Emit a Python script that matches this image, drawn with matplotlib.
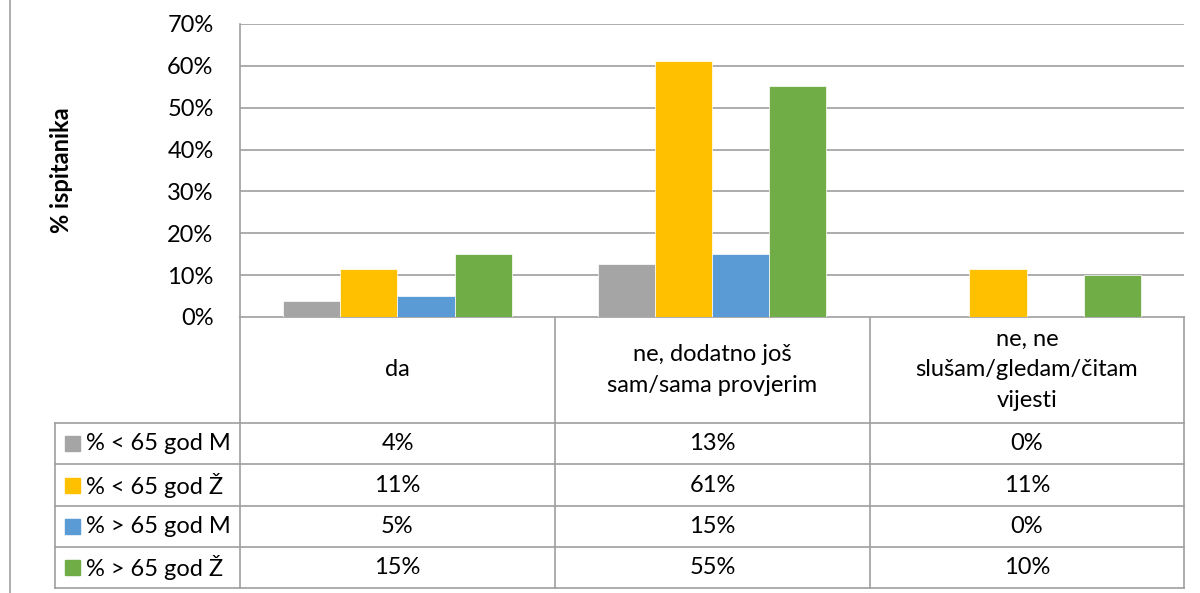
import matplotlib
matplotlib.use("Agg")
import matplotlib.pyplot as plt
import numpy as np

plt.rcParams['font.family'] = ['Lato', 'DejaVu Sans']

categories = ["da", "ne, dodatno još\nsam/sama provjerim", "ne, ne\nslušam/gledam/čitam\nvijesti"]
series_names = ["% < 65 god M", "% < 65 god Ž", "% > 65 god M", "% > 65 god Ž"]
colors = ["#A5A5A5", "#FFC000", "#5B9BD5", "#70AD47"]

lt65_m = [3.8, 12.6, 0.0]
lt65_z = [11.4, 61.2, 11.4]
gt65_m = [5.1, 15.0, 0.0]
gt65_z = [15.1, 55.1, 10.0]
values = [lt65_m, lt65_z, gt65_m, gt65_z]

W, H = 1200, 593
FS = 17
fig = plt.figure(figsize=(W / 100, H / 100), dpi=100)

# pixel geometry of the Excel layout
px_left, px_right = 240, 1184
px_top, px_zero = 24, 317
grid_col = "#9E9E9E"


def fx(x):
    return x / W


def fy(y):
    return 1 - y / H


# bar chart
ax = fig.add_axes([fx(px_left), fy(px_zero), fx(px_right - px_left), (px_zero - px_top) / H])
n_series = len(values)
bw = 1 / (n_series + 1.5)
x = np.arange(len(categories))
for i, (vals, col) in enumerate(zip(values, colors)):
    offs = (i - (n_series - 1) / 2) * bw
    ax.bar(x + offs, vals, width=bw, color=col, edgecolor="white", linewidth=0.5, zorder=3)

ax.set_xlim(-0.5, len(categories) - 0.5)
ax.set_ylim(0, 70)
ax.set_yticks(range(0, 80, 10))
ax.set_yticklabels([f"{t}%" for t in range(0, 80, 10)], fontsize=FS)
ax.set_xticks([])
ax.tick_params(axis="y", length=0, pad=19)
ax.yaxis.grid(True, color=grid_col, linewidth=1.2, zorder=0)
for s in ["top", "right", "bottom"]:
    ax.spines[s].set_visible(False)
ax.spines["left"].set_color(grid_col)
ax.spines["left"].set_linewidth(1.2)
ax.set_ylabel("% ispitanika", fontsize=FS, fontweight="bold")
ax.yaxis.set_label_coords((73 - px_left) / (px_right - px_left), 0.5)

# data table drawn underneath in pixel coordinates
tab_left, tab_bottom = 55, 588
row_edges = [px_zero, 423, 464, 506, 547, 588]
col_edges = [px_left, 555, 870, px_right]
tx = fig.add_axes([0, 0, 1, 1], zorder=-1)
tx.set_xlim(0, W)
tx.set_ylim(H, 0)
tx.axis("off")

lc = dict(color=grid_col, linewidth=1.2)
tx.plot([px_left, px_right], [px_zero, px_zero], **lc)
for y in row_edges[1:]:
    tx.plot([tab_left, px_right], [y, y], **lc)
for xe in col_edges:
    tx.plot([xe, xe], [px_zero, tab_bottom], **lc)
tx.plot([tab_left, tab_left], [row_edges[1], tab_bottom], **lc)
# outer chart border on the left
tx.plot([10, 10], [0, H], color="#A0A0A0", linewidth=1.2)

for j, cat in enumerate(categories):
    cx = (col_edges[j] + col_edges[j + 1]) / 2
    tx.text(cx, (row_edges[0] + row_edges[1]) / 2, cat, ha="center", va="center",
            fontsize=FS, linespacing=1.57)

for i, (name, vals, col) in enumerate(zip(series_names, values, colors)):
    cy = (row_edges[i + 1] + row_edges[i + 2]) / 2
    tx.add_patch(plt.Rectangle((65, cy - 7.5), 15, 15, color=col))
    tx.text(86, cy, name, ha="left", va="center", fontsize=FS)
    for j, v in enumerate(vals):
        cx = (col_edges[j] + col_edges[j + 1]) / 2
        tx.text(cx, cy, f"{v:.0f}%", ha="center", va="center", fontsize=FS)

fig.savefig("out.png", dpi=100, facecolor="white")
